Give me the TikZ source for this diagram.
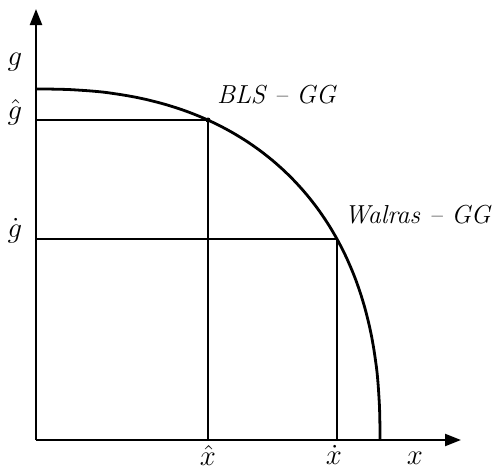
\documentclass[tikz,border=0pt]{standalone}
\usetikzlibrary{arrows.meta}
\begin{document}
\begin{tikzpicture}[x=0.5pt,y=-0.5pt,
  axis/.style={line width=1.1pt,-{Triangle[length=8pt,width=6pt]}},
  guide/.style={line width=0.9pt},
  frontier/.style={line width=1.4pt},
  lbl/.style={font=\fontsize{13}{15}\selectfont,inner sep=0pt},
  var/.style={font=\fontsize{15}{17}\selectfont,inner sep=0pt}]
  \useasboundingbox (0,0) rectangle (493,468);
  \coordinate (o) at (36,440); \coordinate (ytip) at (36,9); \coordinate (xtip) at (461,440);
  \coordinate (top) at (36,89); \coordinate (bot) at (380,440);
  \coordinate (pb) at (208,120); \coordinate (pw) at (337,239);
  \coordinate (gh) at (36,120); \coordinate (gd) at (36,239);
  \coordinate (xh) at (208,440); \coordinate (xd) at (337,440);
  % axes
  \draw[axis] (o) -- (ytip); \draw[axis] (o) -- (xtip);
  % equilibria
  \draw[guide] (gh) -- (pb) -- (xh); \draw[guide] (gd) -- (pw) -- (xd);
  \draw[frontier] (bot) -- plot[domain=0.01:89.99,samples=120,variable=\t]
    ({36+344*pow(cos(\t),0.851)},{440-351*pow(sin(\t),0.851)}) -- (top);
  \fill (pb) circle (2.5);
  % labels
  \node[var] (lg) at (15,62) {$g$};
  \node[var] (lgh) at (15,112) {$\hat{g}$};
  \node[var] (lgd) at (15,231) {$\dot{g}$};
  \node[var] (lxh) at (208,455) {$\hat{x}$};
  \node[var] (lxd) at (334,455) {$\dot{x}$};
  \node[var] (lx) at (415,458) {$x$};
  \node[lbl] (lbls) at (277,95) {\textit{BLS -- GG}};
  \node[lbl] (lwal) at (418,215) {\textit{Walras -- GG}};
\end{tikzpicture}
\end{document}
